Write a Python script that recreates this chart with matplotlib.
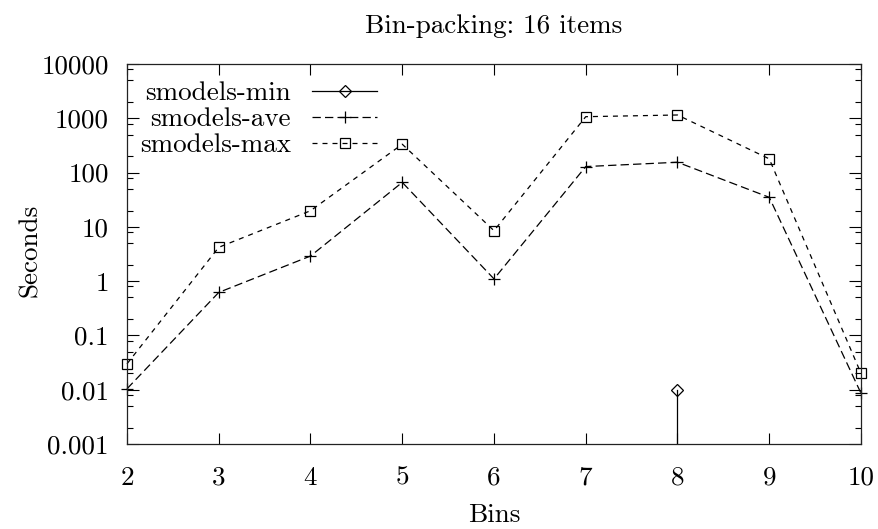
import matplotlib
matplotlib.use("Agg")
import matplotlib.pyplot as plt
from matplotlib.ticker import FixedLocator, FixedFormatter, LogLocator, NullFormatter

plt.rcParams['font.family'] = ['cmr10', 'DejaVu Serif']
plt.rcParams['axes.unicode_minus'] = False
plt.rcParams['lines.scale_dashes'] = False

# ---- data ----
bins = [2, 3, 4, 5, 6, 7, 8, 9, 10]
ave_secs = [0.0104, 0.62, 2.9, 66, 1.1, 129, 155, 35, 0.0086]
max_secs = [0.030, 4.2, 19.8, 333, 8.5, 1070, 1150, 179, 0.020]
min_bins = [8, 8]
min_secs = [0.0098, 1e-6]

title = "Bin-packing: 16 items"
xlabel = "Bins"
ylabel = "Seconds"
labels = ["smodels-min", "smodels-ave", "smodels-max"]
y_ticks = [0.001, 0.01, 0.1, 1, 10, 100, 1000, 10000]
y_tick_labels = ["0.001", "0.01", "0.1", "1", "10", "100", "1000", "10000"]
x_ticks = [2, 3, 4, 5, 6, 7, 8, 9, 10]
x_tick_labels = ["2", "3", "4", "5", "6", "7", "8", "9", "10"]

W, H = 879, 529
fig = plt.figure(figsize=(W / 100, H / 100), dpi=100)
fig.subplots_adjust(left=127 / W, right=861 / W, top=1 - 64 / H, bottom=1 - 444 / H)
ax = fig.add_subplot(111)
FS = 19.5

lw = 0.9
ax.plot(min_bins, min_secs, color='black', lw=lw, marker='D', markersize=6.5,
        mfc='none', mec='black', mew=0.9, markevery=[0], label=labels[0])
ax.plot(bins, ave_secs, color='black', lw=lw, dashes=(6, 3), marker='+',
        markersize=9, mew=0.9, clip_on=False, label=labels[1])
ax.plot(bins, max_secs, color='black', lw=lw, dashes=(3.6, 3.6), marker='s',
        markersize=7.5, mfc='none', mec='black', mew=0.9, clip_on=False,
        label=labels[2])

ax.set_yscale('log')
ax.set_ylim(1e-3, 1e4)
ax.set_xlim(2, 10)

ax.yaxis.set_major_locator(FixedLocator(y_ticks))
ax.yaxis.set_major_formatter(FixedFormatter(y_tick_labels))
ax.yaxis.set_minor_locator(LogLocator(base=10, subs=[2, 5, 8], numticks=20))
ax.yaxis.set_minor_formatter(NullFormatter())
ax.xaxis.set_major_locator(FixedLocator(x_ticks))
ax.xaxis.set_major_formatter(FixedFormatter(x_tick_labels))

ax.tick_params(which='both', direction='in', top=True, right=True,
               labelsize=FS, width=0.8, color='black')
ax.tick_params(axis='y', which='major', length=8.5, pad=13)
ax.tick_params(axis='y', which='minor', length=4.5)
ax.tick_params(axis='x', which='major', length=8, pad=16)
for s in ax.spines.values():
    s.set_linewidth(0.9)
    s.set_color('#222222')

ax.set_title(title, fontsize=FS, pad=22)
ax.set_xlabel(xlabel, fontsize=FS)
ax.set_ylabel(ylabel, fontsize=FS)
ax.xaxis.set_label_coords(0.5, -0.155)
ax.yaxis.set_label_coords(-0.116, 0.51)

leg = ax.legend(loc='upper right', bbox_to_anchor=(0.3406, 0.955),
                markerfirst=False, frameon=False, fontsize=FS,
                handlelength=2.4, handletextpad=0.78, labelspacing=0.08,
                borderpad=0, borderaxespad=0)

fig.savefig("out.png", dpi=100)
